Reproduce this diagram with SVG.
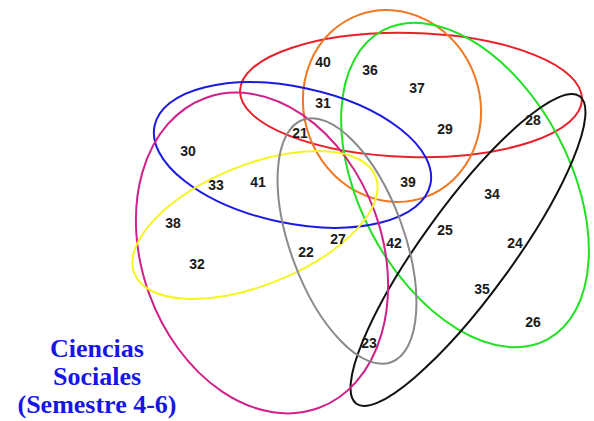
<svg xmlns="http://www.w3.org/2000/svg" width="594" height="421" viewBox="0 0 594 421">
<style>
.e{fill:none;stroke-width:2}
.n{font-family:"Liberation Sans",Arial,sans-serif;font-weight:bold;font-size:14px;fill:#1a1a1a;text-anchor:middle;dominant-baseline:central}
.t{font-family:"Liberation Serif","Times New Roman",serif;font-weight:bold;font-size:26px;fill:#1616e6;text-anchor:middle}
</style>
<rect width="594" height="421" fill="#fff"/>
<g id="sets">
<ellipse id="red" class="e" stroke="#e8202a" cx="411" cy="95" rx="171" ry="62" transform="rotate(1.5 411 95)"/>
<ellipse id="orange" class="e" stroke="#f07820" cx="392" cy="106" rx="88" ry="97" transform="rotate(-20 392 106)"/>
<ellipse id="green" class="e" stroke="#22e022" cx="465" cy="185" rx="105" ry="175" transform="rotate(-28 465 185)"/>
<ellipse id="black" class="e" stroke="#111" cx="468" cy="250" rx="190" ry="45" transform="rotate(-54 468 250)"/>
<ellipse id="blue" class="e" stroke="#1a1ae0" cx="292.5" cy="155" rx="141" ry="68" transform="rotate(12 292.5 155)"/>
<ellipse id="magenta" class="e" stroke="#d0208a" cx="262" cy="253" rx="120" ry="165" transform="rotate(-20 262 253)"/>
<ellipse id="yellow" class="e" stroke="#f5f520" cx="255" cy="225" rx="130" ry="60" transform="rotate(-22 255 225)"/>
<ellipse id="gray" class="e" stroke="#8a8a8a" cx="347" cy="241" rx="57" ry="129" transform="rotate(-20 347 241)"/>
</g>
<g id="labels">
<text class="n" x="323" y="62">40</text>
<text class="n" x="370" y="70">36</text>
<text class="n" x="417" y="88">37</text>
<text class="n" x="323" y="103">31</text>
<text class="n" x="445" y="129">29</text>
<text class="n" x="533" y="120">28</text>
<text class="n" x="300" y="133">21</text>
<text class="n" x="188" y="151">30</text>
<text class="n" x="216" y="185">33</text>
<text class="n" x="258" y="182">41</text>
<text class="n" x="408" y="182">39</text>
<text class="n" x="492" y="194">34</text>
<text class="n" x="173" y="223">38</text>
<text class="n" x="445" y="230">25</text>
<text class="n" x="338" y="239">27</text>
<text class="n" x="394" y="243">42</text>
<text class="n" x="515" y="243">24</text>
<text class="n" x="306" y="252">22</text>
<text class="n" x="197" y="264">32</text>
<text class="n" x="482" y="289">35</text>
<text class="n" x="533" y="322">26</text>
<text class="n" x="369" y="343">23</text>
</g>
<g id="title">
<text class="t" x="97" y="357">Ciencias</text>
<text class="t" x="97" y="385">Sociales</text>
<text class="t" x="97" y="413">(Semestre 4-6)</text>
</g>
</svg>
